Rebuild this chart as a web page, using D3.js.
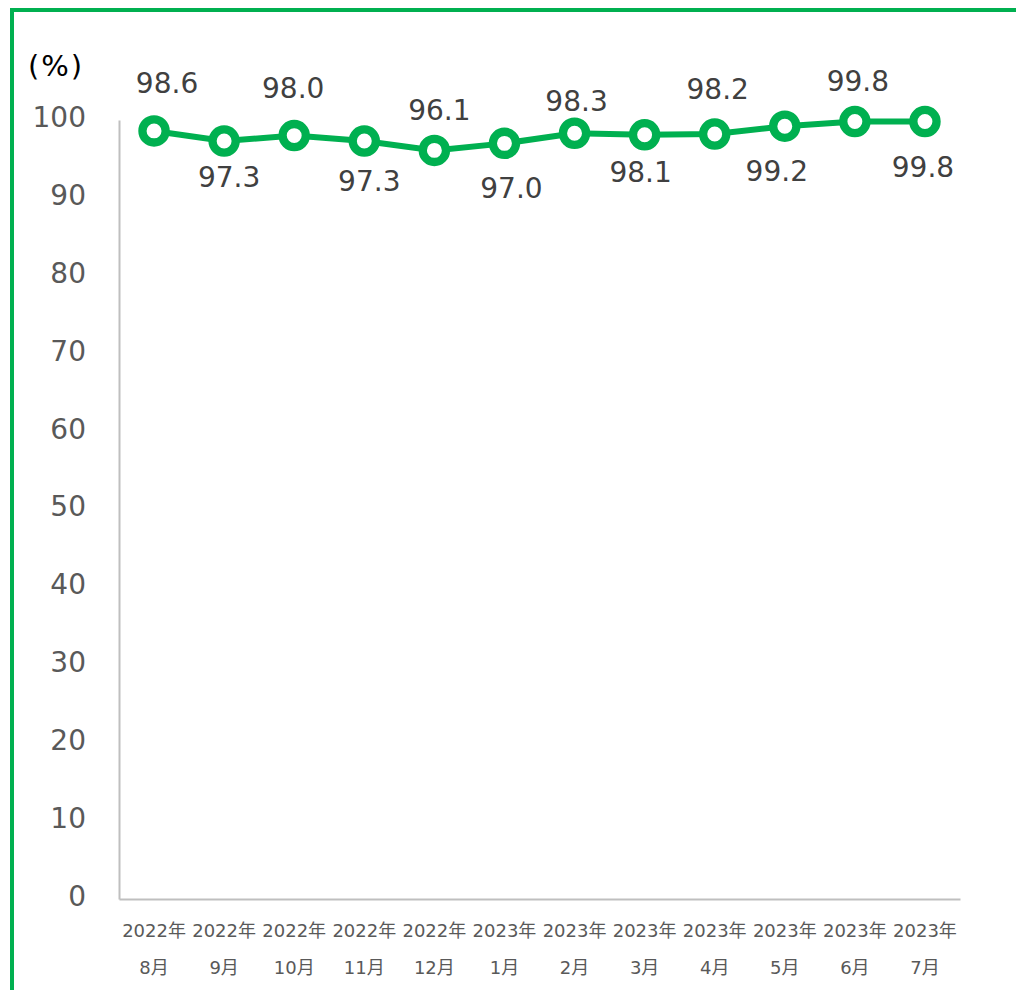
<!DOCTYPE html>
<html><head><meta charset="utf-8">
<script src="https://cdn.jsdelivr.net/npm/d3@7"></script>
<style>html,body{margin:0;padding:0;background:#fff;}svg{display:block;}</style>
</head><body>
<svg id="c" width="1016" height="990"></svg>
<script>
const years = ["2022年","2022年","2022年","2022年","2022年","2023年","2023年","2023年","2023年","2023年","2023年","2023年"];
const months = ["8月","9月","10月","11月","12月","1月","2月","3月","4月","5月","6月","7月"];
const values = [98.6,97.3,98.0,97.3,96.1,97.0,98.3,98.1,98.2,99.2,99.8,99.8];
const yTicks = [0,10,20,30,40,50,60,70,80,90,100];
const unitLabel = "(%)";
// label nudges (style only, px relative to each point)
const labelDx = [13,5,-1,5,5,7,2,-4,3,-8,3,-2];
const labelDy = [-38,46,-38,50,-30,55,-22,47,-35,55,-31,55];

const FONT = "'DejaVu Sans','Noto Sans CJK JP',sans-serif";
const svg = d3.select("#c");
const green = "#00b050";

// frame
svg.append("path").attr("d","M12,990 V10 H1016").attr("fill","none").attr("stroke",green).attr("stroke-width",4);

const pLeft=119, pRight=960, pTop=120, pBottom=899;
const x = d3.scaleBand().domain(d3.range(values.length)).range([pLeft,pRight]);
const y = d3.scaleLinear().domain([0,100]).range([pBottom,pTop]);

const yAxis = svg.append("g").attr("transform",`translate(${pLeft},0)`)
  .call(d3.axisLeft(y).tickValues(yTicks).tickSize(0).tickPadding(33));
yAxis.select(".domain").attr("stroke","#bfbfbf").attr("stroke-width",2);
yAxis.selectAll("text").attr("font-family",FONT).attr("font-size",28).attr("fill","#595959").attr("dy","0.23em");

const xAxis = svg.append("g").attr("transform",`translate(0,${pBottom})`)
  .call(d3.axisBottom(x).tickSize(0).tickFormat(""));
xAxis.select(".domain").attr("stroke","#bfbfbf").attr("stroke-width",2);
xAxis.selectAll(".tick").each(function(d){
  const g = d3.select(this);
  g.append("text").attr("y",38).attr("text-anchor","middle").attr("font-family",FONT)
    .attr("font-size",18).attr("fill","#595959").text(years[d]);
  g.append("text").attr("y",75).attr("text-anchor","middle").attr("font-family",FONT)
    .attr("font-size",18).attr("fill","#595959").text(months[d]);
});

svg.append("text").attr("x",28).attr("y",76).attr("font-family",FONT).attr("font-size",29)
  .attr("letter-spacing",2).attr("fill","#000").text(unitLabel);

const cx = i => x(i)+x.bandwidth()/2;
svg.append("path").datum(values)
  .attr("d",d3.line().x((d,i)=>cx(i)).y(d=>y(d)))
  .attr("fill","none").attr("stroke",green).attr("stroke-width",6);

svg.selectAll("circle.pt").data(values).join("circle").attr("class","pt")
  .attr("cx",(d,i)=>cx(i)).attr("cy",d=>y(d)).attr("r",11.6)
  .attr("fill","#fff").attr("stroke",green).attr("stroke-width",8.3);

svg.selectAll("text.lbl").data(values).join("text").attr("class","lbl")
  .attr("x",(d,i)=>cx(i)+labelDx[i]).attr("y",(d,i)=> y(d)+labelDy[i])
  .attr("text-anchor","middle").attr("font-family",FONT).attr("font-size",28)
  .attr("fill","#404040").text(d=>d.toFixed(1));
</script>
</body></html>
